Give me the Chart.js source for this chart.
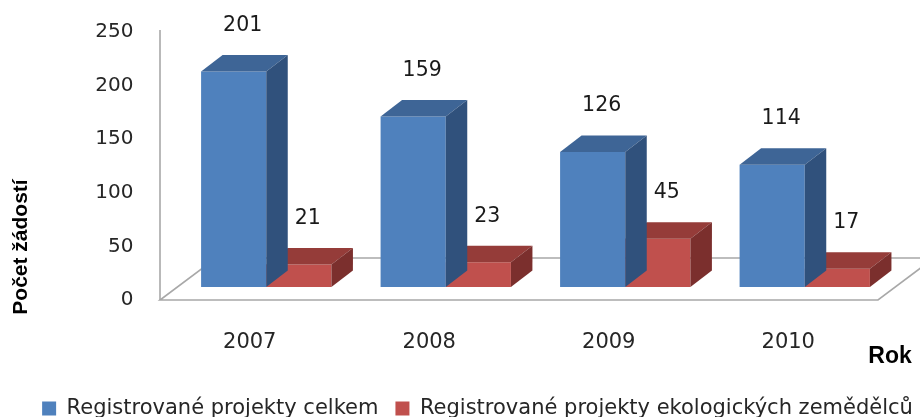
<!DOCTYPE html>
<html>
<head>
<meta charset="utf-8">
<script src="https://cdn.jsdelivr.net/npm/chart.js@4.4.1/dist/chart.umd.min.js"></script>
<style>
  html, body { margin: 0; padding: 0; background: #ffffff; overflow: hidden; }
  #wrap { position: relative; width: 960px; height: 429px; }
</style>
</head>
<body>
<div id="wrap"><canvas id="c"></canvas></div>
<script>
// ---- data ----
const categories = ['2007', '2008', '2009', '2010'];
const totalProjects = [201, 159, 126, 114];
const ecoProjects = [21, 23, 45, 17];
const yTickValues = [0, 50, 100, 150, 200, 250];
const seriesNames = ['Registrované projekty celkem', 'Registrované projekty ekologických zemědělců'];
const yAxisTitle = 'Počet žádostí';
const xAxisTitle = 'Rok';

// ---- style ----
const FONT = '"DejaVu Sans"';
const TITLE_FONT = '"Liberation Sans"';
const LEGEND_SIZE = 21, LEGEND_PAD = 17, LEGEND_BOX = 14, LEGEND_START = 42;
const frontColors = ['#4F81BD', '#C0504D'];
const topColors = ['#3E6596', '#953C39'];
const sideColors = ['#30517C', '#7B2F2D'];
const DEPTH_X = 21.5, DEPTH_Y = 16.5;        // bar depth projection
const FLOOR_SHIFT_X = -16.5, FLOOR_SHIFT_Y = 13; // floor front edge offset from bar front
const FLOOR_DX = 56, FLOOR_DY = 42;           // floor depth projection
const AREA_RIGHT = 894.5, AREA_LEFT = 176.5, AREA_TOP = 19, AREA_BOTTOM = 287, H = 429;

// width of the page box so that the (overflowing) legend starts where it does in the reference
const mctx = document.createElement('canvas').getContext('2d');
mctx.font = LEGEND_SIZE + 'px ' + FONT;
let legendLine = 0;
seriesNames.forEach(n => { legendLine += LEGEND_BOX + LEGEND_SIZE / 2 + mctx.measureText(n).width + LEGEND_PAD; });
const W = Math.round(2 * LEGEND_START - LEGEND_PAD + legendLine);
document.getElementById('wrap').style.width = W + 'px';

const threeD = {
  id: 'threeD',
  beforeDatasetsDraw(chart) {
    const ctx = chart.ctx;
    const a = chart.chartArea;
    const ys = chart.scales.y;
    const fy = ys.getPixelForValue(0) + FLOOR_SHIFT_Y;
    const fl = a.left + FLOOR_SHIFT_X, fr = a.right + FLOOR_SHIFT_X;
    ctx.save();
    ctx.strokeStyle = '#A8A8A8';
    ctx.lineWidth = 1.6;
    ctx.beginPath();
    ctx.moveTo(fl, fy);
    ctx.lineTo(fr, fy);
    ctx.lineTo(fr + FLOOR_DX, fy - FLOOR_DY);
    ctx.lineTo(fl + FLOOR_DX, fy - FLOOR_DY);
    ctx.closePath();
    ctx.fillStyle = '#ffffff';
    ctx.fill();
    ctx.stroke();
    ctx.beginPath();
    ctx.moveTo(fl, fy);
    ctx.lineTo(fl, ys.getPixelForValue(yTickValues[yTickValues.length - 1]) + FLOOR_SHIFT_Y - 2);
    ctx.stroke();
    ctx.restore();
  },
  afterDatasetDraw(chart, args) {
    const ctx = chart.ctx;
    const i = args.index;
    ctx.save();
    args.meta.data.forEach(bar => {
      const p = bar.getProps(['x', 'y', 'base', 'width'], true);
      const x0 = p.x - p.width / 2, x1 = p.x + p.width / 2;
      const top = Math.min(p.y, p.base), bot = Math.max(p.y, p.base);
      ctx.fillStyle = topColors[i];
      ctx.beginPath();
      ctx.moveTo(x0, top);
      ctx.lineTo(x1, top);
      ctx.lineTo(x1 + DEPTH_X, top - DEPTH_Y);
      ctx.lineTo(x0 + DEPTH_X, top - DEPTH_Y);
      ctx.closePath();
      ctx.fill();
      ctx.fillStyle = sideColors[i];
      ctx.beginPath();
      ctx.moveTo(x1, top);
      ctx.lineTo(x1 + DEPTH_X, top - DEPTH_Y);
      ctx.lineTo(x1 + DEPTH_X, bot - DEPTH_Y);
      ctx.lineTo(x1, bot);
      ctx.closePath();
      ctx.fill();
    });
    ctx.restore();
  },
  afterDatasetsDraw(chart) {
    const ctx = chart.ctx;
    ctx.save();
    ctx.fillStyle = '#1a1a1a';
    ctx.font = '20.5px ' + FONT;
    ctx.textAlign = 'center';
    ctx.textBaseline = 'middle';
    chart.data.datasets.forEach((ds, di) => {
      chart.getDatasetMeta(di).data.forEach((bar, j) => {
        const p = bar.getProps(['x', 'y'], true);
        ctx.fillText(String(ds.data[j]), p.x + 9, p.y - 46);
      });
    });
    ctx.fillStyle = '#000000';
    ctx.font = 'bold 21px ' + TITLE_FONT;
    ctx.save();
    ctx.translate(21, 247);
    ctx.rotate(-Math.PI / 2);
    ctx.fillText(yAxisTitle, 0, 0);
    ctx.restore();
    ctx.font = 'bold 23px ' + TITLE_FONT;
    ctx.fillText(xAxisTitle, 890, 357);
    ctx.restore();
  }
};

new Chart(document.getElementById('c'), {
  type: 'bar',
  data: {
    labels: categories,
    datasets: [
      { label: seriesNames[0], data: totalProjects, backgroundColor: frontColors[0], borderWidth: 0 },
      { label: seriesNames[1], data: ecoProjects, backgroundColor: frontColors[1], borderWidth: 0 }
    ]
  },
  options: {
    responsive: true,
    maintainAspectRatio: false,
    animation: false,
    devicePixelRatio: 1,
    layout: { padding: { left: 0, right: 0, top: AREA_TOP, bottom: 0 } },
    datasets: { bar: { categoryPercentage: 0.726, barPercentage: 1.0 } },
    plugins: {
      legend: {
        position: 'bottom',
        align: 'center',
        labels: {
          font: { family: FONT, size: LEGEND_SIZE },
          color: '#262626',
          boxWidth: LEGEND_BOX,
          boxHeight: LEGEND_BOX,
          padding: LEGEND_PAD
        }
      },
      tooltip: { enabled: false },
      title: { display: false }
    },
    scales: {
      x: {
        grid: { display: false, drawTicks: false },
        border: { display: false },
        ticks: { font: { family: FONT, size: 21 }, color: '#262626', padding: 43.4, labelOffset: FLOOR_SHIFT_X },
        afterFit(s) {
          s.height = H - AREA_BOTTOM - (LEGEND_SIZE + LEGEND_PAD + 10);
          s.paddingLeft = 0;
          s.paddingRight = W - AREA_RIGHT;
        }
      },
      y: {
        min: 0, max: 250,
        grid: { display: false, drawTicks: false },
        border: { display: false },
        afterBuildTicks(s) { s.ticks = yTickValues.map(v => ({ value: v })); },
        ticks: { font: { family: FONT, size: 20 }, color: '#262626', padding: 43, labelOffset: FLOOR_SHIFT_Y },
        afterFit(s) { s.width = AREA_LEFT; s.paddingTop = 0; s.paddingBottom = 0; }
      }
    }
  },
  plugins: [threeD]
});
</script>
</body>
</html>
